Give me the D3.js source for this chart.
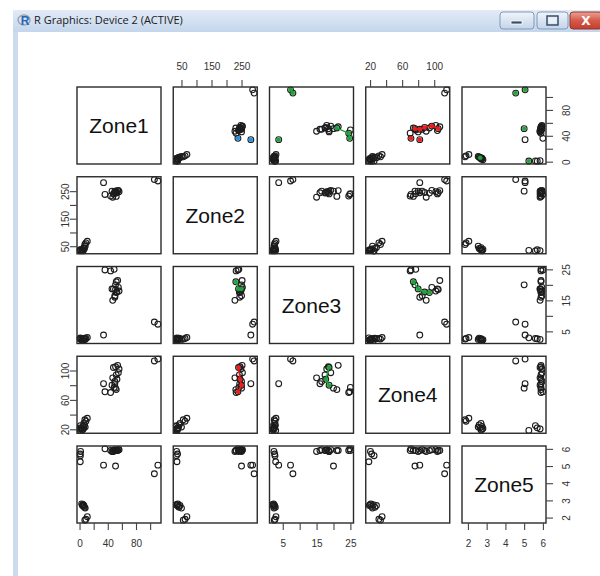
<!DOCTYPE html>
<html>
<head>
<meta charset="utf-8">
<script src="https://cdn.jsdelivr.net/npm/d3@7"></script>
<style>
  body { margin: 0; background: #fff; }
  svg { display: block; }
</style>
</head>
<body>
<svg id="chart" width="600" height="576"></svg>
<script>
// ---- data: one entry per observation, same order in every array ----
const zoneNames = ["Zone1", "Zone2", "Zone3", "Zone4", "Zone5"];

const zone1 = [4, 6, 5, 7, 3, 6, 8, 5, 9, 11, 7.5,
               1.0, 1.5, 0.8, 1.2,
               34, 106, 111, 36,
               51, 49, 51, 56, 52, 46, 53, 50, 54, 48, 52, 47, 55, 44, 50];
const zone2 = [36, 40, 33, 42, 38, 45, 50, 35, 62, 68, 56,
               35, 34, 37, 33,
               281, 292, 287, 238,
               250, 241, 245, 248, 243, 250, 245, 250, 252, 240, 231, 228, 253, 232, 244];
const zone3 = [2.2, 2.5, 2.0, 2.8, 2.3, 2.6, 2.4, 2.1, 2.7, 3.0, 2.5,
               2.9, 2.4, 2.6, 2.7,
               3.8, 8.0, 7.3, 24.8,
               20.0, 25.0, 18.5, 18.0, 17.5, 18.7, 17.7, 16.5, 21.4, 18.7, 21.0, 15.0, 19.2, 24.5, 16.0];
const zone4 = [19, 22, 24, 26, 21, 28, 23, 20, 31, 35, 33,
               18.5, 20.5, 22, 25,
               82, 113, 115.5, 71,
               76, 77, 105, 102, 94, 80, 88, 85, 107, 104, 74, 90, 97, 70, 82];
const zone5 = [2.7, 2.65, 2.75, 2.6, 2.8, 2.7, 2.55, 2.75, 1.9, 2.05, 1.85,
               5.25, 5.85, 5.7, 5.6,
               5.05, 4.55, 5.05, 6.0,
               5.0, 5.9, 5.9, 5.95, 5.9, 5.85, 5.9, 5.95, 5.9, 5.85, 5.9, 5.85, 5.95, 5.9, 5.9];

// tick values and the labels printed beside them ("" = tick only)
const zoneTicks = [
  [0, 20, 40, 60, 80, 100],
  [50, 100, 150, 200, 250],
  [5, 10, 15, 20, 25],
  [20, 40, 60, 80, 100],
  [2, 3, 4, 5, 6]
];
const zoneTickLabels = [
  ["0", "", "40", "", "80", ""],
  ["50", "", "150", "", "250"],
  ["5", "", "15", "", "25"],
  ["20", "", "60", "", "100"],
  ["2", "3", "4", "5", "6"]
];

// coloured tracks: panel (row, col), colour, runs of observation indices
const trackPanels = [
  { row: 0, col: 1, color: "#1e90e0", runs: [[18], [15]] },
  { row: 0, col: 2, color: "#1fa33a", runs: [[16], [17], [15], [29, 32, 18]] },
  { row: 0, col: 3, color: "#ee1c1c", runs: [[19, 33, 25, 31, 21], [18], [15]] },
  { row: 0, col: 4, color: "#1fa33a", runs: [[16], [17], [19], [1], [11]] },
  { row: 2, col: 1, color: "#1fa33a", runs: [[29, 28, 24]] },
  { row: 2, col: 3, color: "#1fa33a", runs: [[29, 24, 25, 23]] },
  { row: 3, col: 1, color: "#ee1c1c", runs: [[28, 25, 24, 18]] },
  { row: 3, col: 2, color: "#1fa33a", runs: [[28, 25, 24]] }
];

// ---- drawing ----
const zones = [zone1, zone2, zone3, zone4, zone5];
const n = zones.length;
const svg = d3.select("#chart");
const defs = svg.append("defs");

function vGradient(id, stops) {
  const g = defs.append("linearGradient").attr("id", id)
    .attr("x1", 0).attr("y1", 0).attr("x2", 0).attr("y2", 1);
  stops.forEach(([o, c]) => g.append("stop").attr("offset", o).attr("stop-color", c));
}
vGradient("barGrad", [[0, "#e2ebf6"], [1, "#c4d6ec"]]);
vGradient("btnGrad", [[0, "#f1f5fb"], [0.5, "#d9e4f2"], [1, "#c3d4ea"]]);
vGradient("closeGrad", [[0, "#eaa396"], [0.5, "#d65a4a"], [1, "#c13f2d"]]);

// window frame
const chrome = svg.append("g");
chrome.append("rect").attr("x", 13).attr("y", 10).attr("width", 587).attr("height", 22)
  .attr("fill", "url(#barGrad)");
chrome.append("rect").attr("x", 13).attr("y", 32).attr("width", 5).attr("height", 544)
  .attr("fill", "#cddbed");
chrome.append("ellipse").attr("cx", 24).attr("cy", 20).attr("rx", 6).attr("ry", 5)
  .attr("fill", "none").attr("stroke", "#9aa3ad").attr("stroke-width", 1.5);
chrome.append("text").attr("x", 25).attr("y", 25).attr("text-anchor", "middle")
  .attr("font-family", "Liberation Sans, Arial, sans-serif").attr("font-weight", "bold")
  .attr("font-size", 12).attr("fill", "#2466b8").text("R");
chrome.append("text").attr("x", 34).attr("y", 24)
  .attr("font-family", "Open Sans, sans-serif").attr("font-size", 11)
  .attr("fill", "#1a1a1a").text("R Graphics: Device 2 (ACTIVE)");

const buttons = [
  { x: 500, w: 34, fill: "url(#btnGrad)", stroke: "#8299b8" },
  { x: 537, w: 31, fill: "url(#btnGrad)", stroke: "#8299b8" },
  { x: 570, w: 32, fill: "url(#closeGrad)", stroke: "#93352a" }
];
chrome.selectAll("rect.btn").data(buttons).join("rect").attr("class", "btn")
  .attr("x", d => d.x).attr("y", 12).attr("width", d => d.w).attr("height", 17).attr("rx", 3)
  .attr("fill", d => d.fill).attr("stroke", d => d.stroke);
chrome.append("rect").attr("x", 511).attr("y", 21).attr("width", 11).attr("height", 3)
  .attr("fill", "#3b4d66").attr("stroke", "#fff").attr("stroke-width", 0.8);
chrome.append("rect").attr("x", 547).attr("y", 16).attr("width", 11).attr("height", 9)
  .attr("fill", "none").attr("stroke", "#3b4d66").attr("stroke-width", 1.5);
chrome.append("rect").attr("x", 548.5).attr("y", 18).attr("width", 8).attr("height", 5.5)
  .attr("fill", "#e9f0f8");
chrome.append("text").attr("x", 586).attr("y", 25).attr("text-anchor", "middle")
  .attr("font-family", "DejaVu Sans, sans-serif").attr("font-weight", "bold")
  .attr("font-size", 12).attr("fill", "#fff").text("X");

// panel grid geometry
const gridLeft = 77, gridTop = 87, panelW = 84, panelH = 77, stepX = 96.25, stepY = 89.75;
const colX = j => gridLeft + j * stepX;
const rowY = i => gridTop + i * stepY;

// R-style 4% padding around each variable's range
function paddedDomain(v) {
  const [lo, hi] = d3.extent(v);
  const pad = (hi - lo) * 0.04;
  return [lo - pad, hi + pad];
}
const xScales = zones.map((v, j) => d3.scaleLinear().domain(paddedDomain(v)).range([colX(j), colX(j) + panelW]));
const yScales = zones.map((v, i) => d3.scaleLinear().domain(paddedDomain(v)).range([rowY(i) + panelH, rowY(i)]));

const plot = svg.append("g");
const ink = "#1c1c1c";
const obsIdx = d3.range(zone1.length);

for (let i = 0; i < n; i++) {
  for (let j = 0; j < n; j++) {
    const g = plot.append("g");
    if (i === j) {
      g.append("text")
        .attr("x", colX(j) + panelW / 2).attr("y", rowY(i) + panelH / 2)
        .attr("text-anchor", "middle").attr("dominant-baseline", "central")
        .attr("font-family", "Liberation Sans, Arial, sans-serif").attr("font-size", 21)
        .attr("fill", "#111").text(zoneNames[i]);
    } else {
      const xs = xScales[j], ys = yScales[i];
      g.selectAll("circle").data(obsIdx).join("circle")
        .attr("cx", k => xs(zones[j][k])).attr("cy", k => ys(zones[i][k]))
        .attr("r", 2.9).attr("fill", "none").attr("stroke", ink).attr("stroke-width", 1.1);

      trackPanels.filter(t => t.row === i && t.col === j).forEach(t => {
        t.runs.forEach(run => {
          if (run.length > 1) {
            g.append("path")
              .attr("d", d3.line().x(k => xs(zones[j][k])).y(k => ys(zones[i][k]))(run))
              .attr("fill", "none").attr("stroke", t.color).attr("stroke-width", 1.4);
          }
          g.selectAll(null).data(run).join("circle")
            .attr("cx", k => xs(zones[j][k])).attr("cy", k => ys(zones[i][k]))
            .attr("r", 2).attr("fill", t.color).attr("stroke", t.color).attr("stroke-width", 0.6);
        });
      });
    }
    g.append("rect").attr("x", colX(j)).attr("y", rowY(i))
      .attr("width", panelW).attr("height", panelH)
      .attr("fill", "none").attr("stroke", "#2a2a2a").attr("stroke-width", 1.4);
  }
}

// axes on alternating outer sides
const labelFont = "Liberation Sans, Arial, sans-serif";
function styleAxis(sel) {
  sel.select(".domain").remove();
  sel.selectAll(".tick line").attr("stroke", "#444").attr("stroke-width", 1.1);
  sel.selectAll(".tick text").attr("font-family", labelFont).attr("font-size", 10).attr("fill", "#333");
}
const fmt = j => d => zoneTickLabels[j][zoneTicks[j].indexOf(d)];

for (let j = 0; j < n; j++) {
  if (j % 2 === 1) {
    // top axis above first row
    plot.append("g").attr("transform", `translate(0,${rowY(0)})`)
      .call(d3.axisTop(xScales[j]).tickValues(zoneTicks[j]).tickFormat(fmt(j)).tickSize(7).tickPadding(10))
      .call(styleAxis);
  } else {
    // bottom axis below last row
    plot.append("g").attr("transform", `translate(0,${rowY(n - 1) + panelH})`)
      .call(d3.axisBottom(xScales[j]).tickValues(zoneTicks[j]).tickFormat(fmt(j)).tickSize(7).tickPadding(10))
      .call(styleAxis);
  }
}
for (let i = 0; i < n; i++) {
  if (i % 2 === 1) {
    // left axis, labels parallel to the axis
    const ax = plot.append("g").attr("transform", `translate(${colX(0)},0)`)
      .call(d3.axisLeft(yScales[i]).tickValues(zoneTicks[i]).tickFormat(fmt(i)).tickSize(7))
      .call(styleAxis);
    ax.selectAll(".tick text").attr("x", null).attr("dy", null)
      .attr("text-anchor", "middle").attr("dominant-baseline", "central")
      .attr("transform", "translate(-12,0) rotate(-90)");
  } else {
    // right axis, labels parallel to the axis
    const ax = plot.append("g").attr("transform", `translate(${colX(n - 1) + panelW},0)`)
      .call(d3.axisRight(yScales[i]).tickValues(zoneTicks[i]).tickFormat(fmt(i)).tickSize(7))
      .call(styleAxis);
    ax.selectAll(".tick text").attr("x", null).attr("dy", null)
      .attr("text-anchor", "middle").attr("dominant-baseline", "central")
      .attr("transform", "translate(20,0) rotate(-90)");
  }
}
</script>
</body>
</html>
